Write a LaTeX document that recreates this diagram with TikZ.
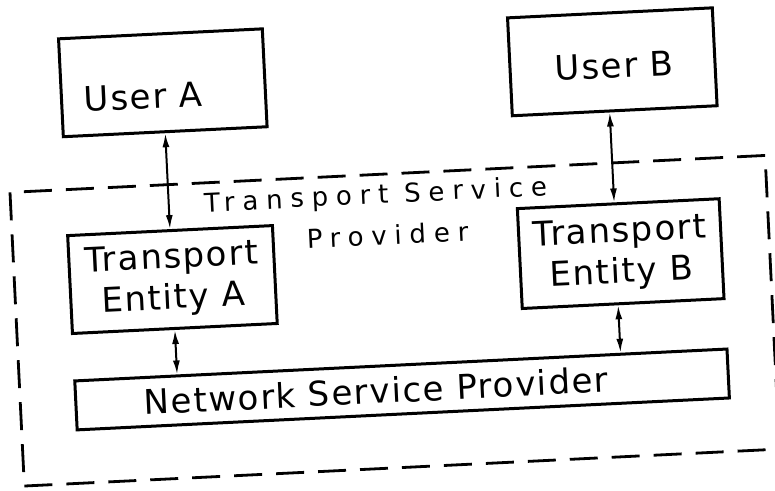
\documentclass[tikz,border=0pt]{standalone}
\usepackage{fontspec}
\setmainfont{DejaVu Sans}
\newfontfamily\handfont[LetterSpace=5]{DejaVu Sans}
\newfontfamily\labelfont[LetterSpace=30]{DejaVu Sans}
\usetikzlibrary{arrows.meta}
\begin{document}
\begin{tikzpicture}[x=1pt,y=1pt,
 box/.style={draw, line width=3pt, inner sep=0pt},
 txt/.style={font=\handfont\fontsize{34}{41}\selectfont, align=center, inner sep=0pt},
 lbl/.style={font=\labelfont\fontsize{26}{32}\selectfont, align=center, inner sep=0pt},
 arr/.style={line width=2pt, {Latex[length=14pt,width=7pt]}-{Latex[length=14pt,width=7pt]}},
 frame/.style={draw, line width=2.8pt, dash pattern=on 28pt off 14pt, inner sep=0pt}]
\useasboundingbox[fill=white] (0,0) rectangle (775,490);
\begin{scope}[rotate around={2.8:(387.5,245)}, transform shape]
 % outer dashed transport service provider frame
 \node[frame, minimum width=756pt, minimum height=294pt] (tsp) at (391,169) {};
 \node[lbl] (tspl1) at (378,294) {Transport Service};
 \node[lbl] (tspl2) at (388,255) {Provider};
 % boxes
 \node[box, minimum width=204pt, minimum height=98pt] (ua) at (171,418) {};
 \node[txt] (uat) at (151,405) {User A};
 \node[box, minimum width=205pt, minimum height=98pt] (ub) at (621,417) {};
 \node[txt] (ubt) at (623,413) {User B};
 \node[box, minimum width=205pt, minimum height=98pt, txt, draw, line width=3pt] (tea) at (171,221) {Transport\\Entity A};
 \node[box, minimum width=202pt, minimum height=100pt, txt, draw, line width=3pt] (teb) at (620,225) {Transport\\Entity B};
 \node[box, minimum width=653pt, minimum height=49pt] (net) at (395,100) {};
 \node[txt] (nett) at (369,100) {Network Service Provider};
 % connectors
 \draw[arr] (ua.south) -- (tea.north);
 \draw[arr] ([xshift=-5pt]ub.south) -- ([xshift=-5pt]ub.south |- teb.north);
 \draw[arr] (tea.south) -- (tea.south |- net.north);
 \draw[arr] ([xshift=-5pt]teb.south) -- ([xshift=-5pt]teb.south |- net.north);
\end{scope}
\end{tikzpicture}
\end{document}
